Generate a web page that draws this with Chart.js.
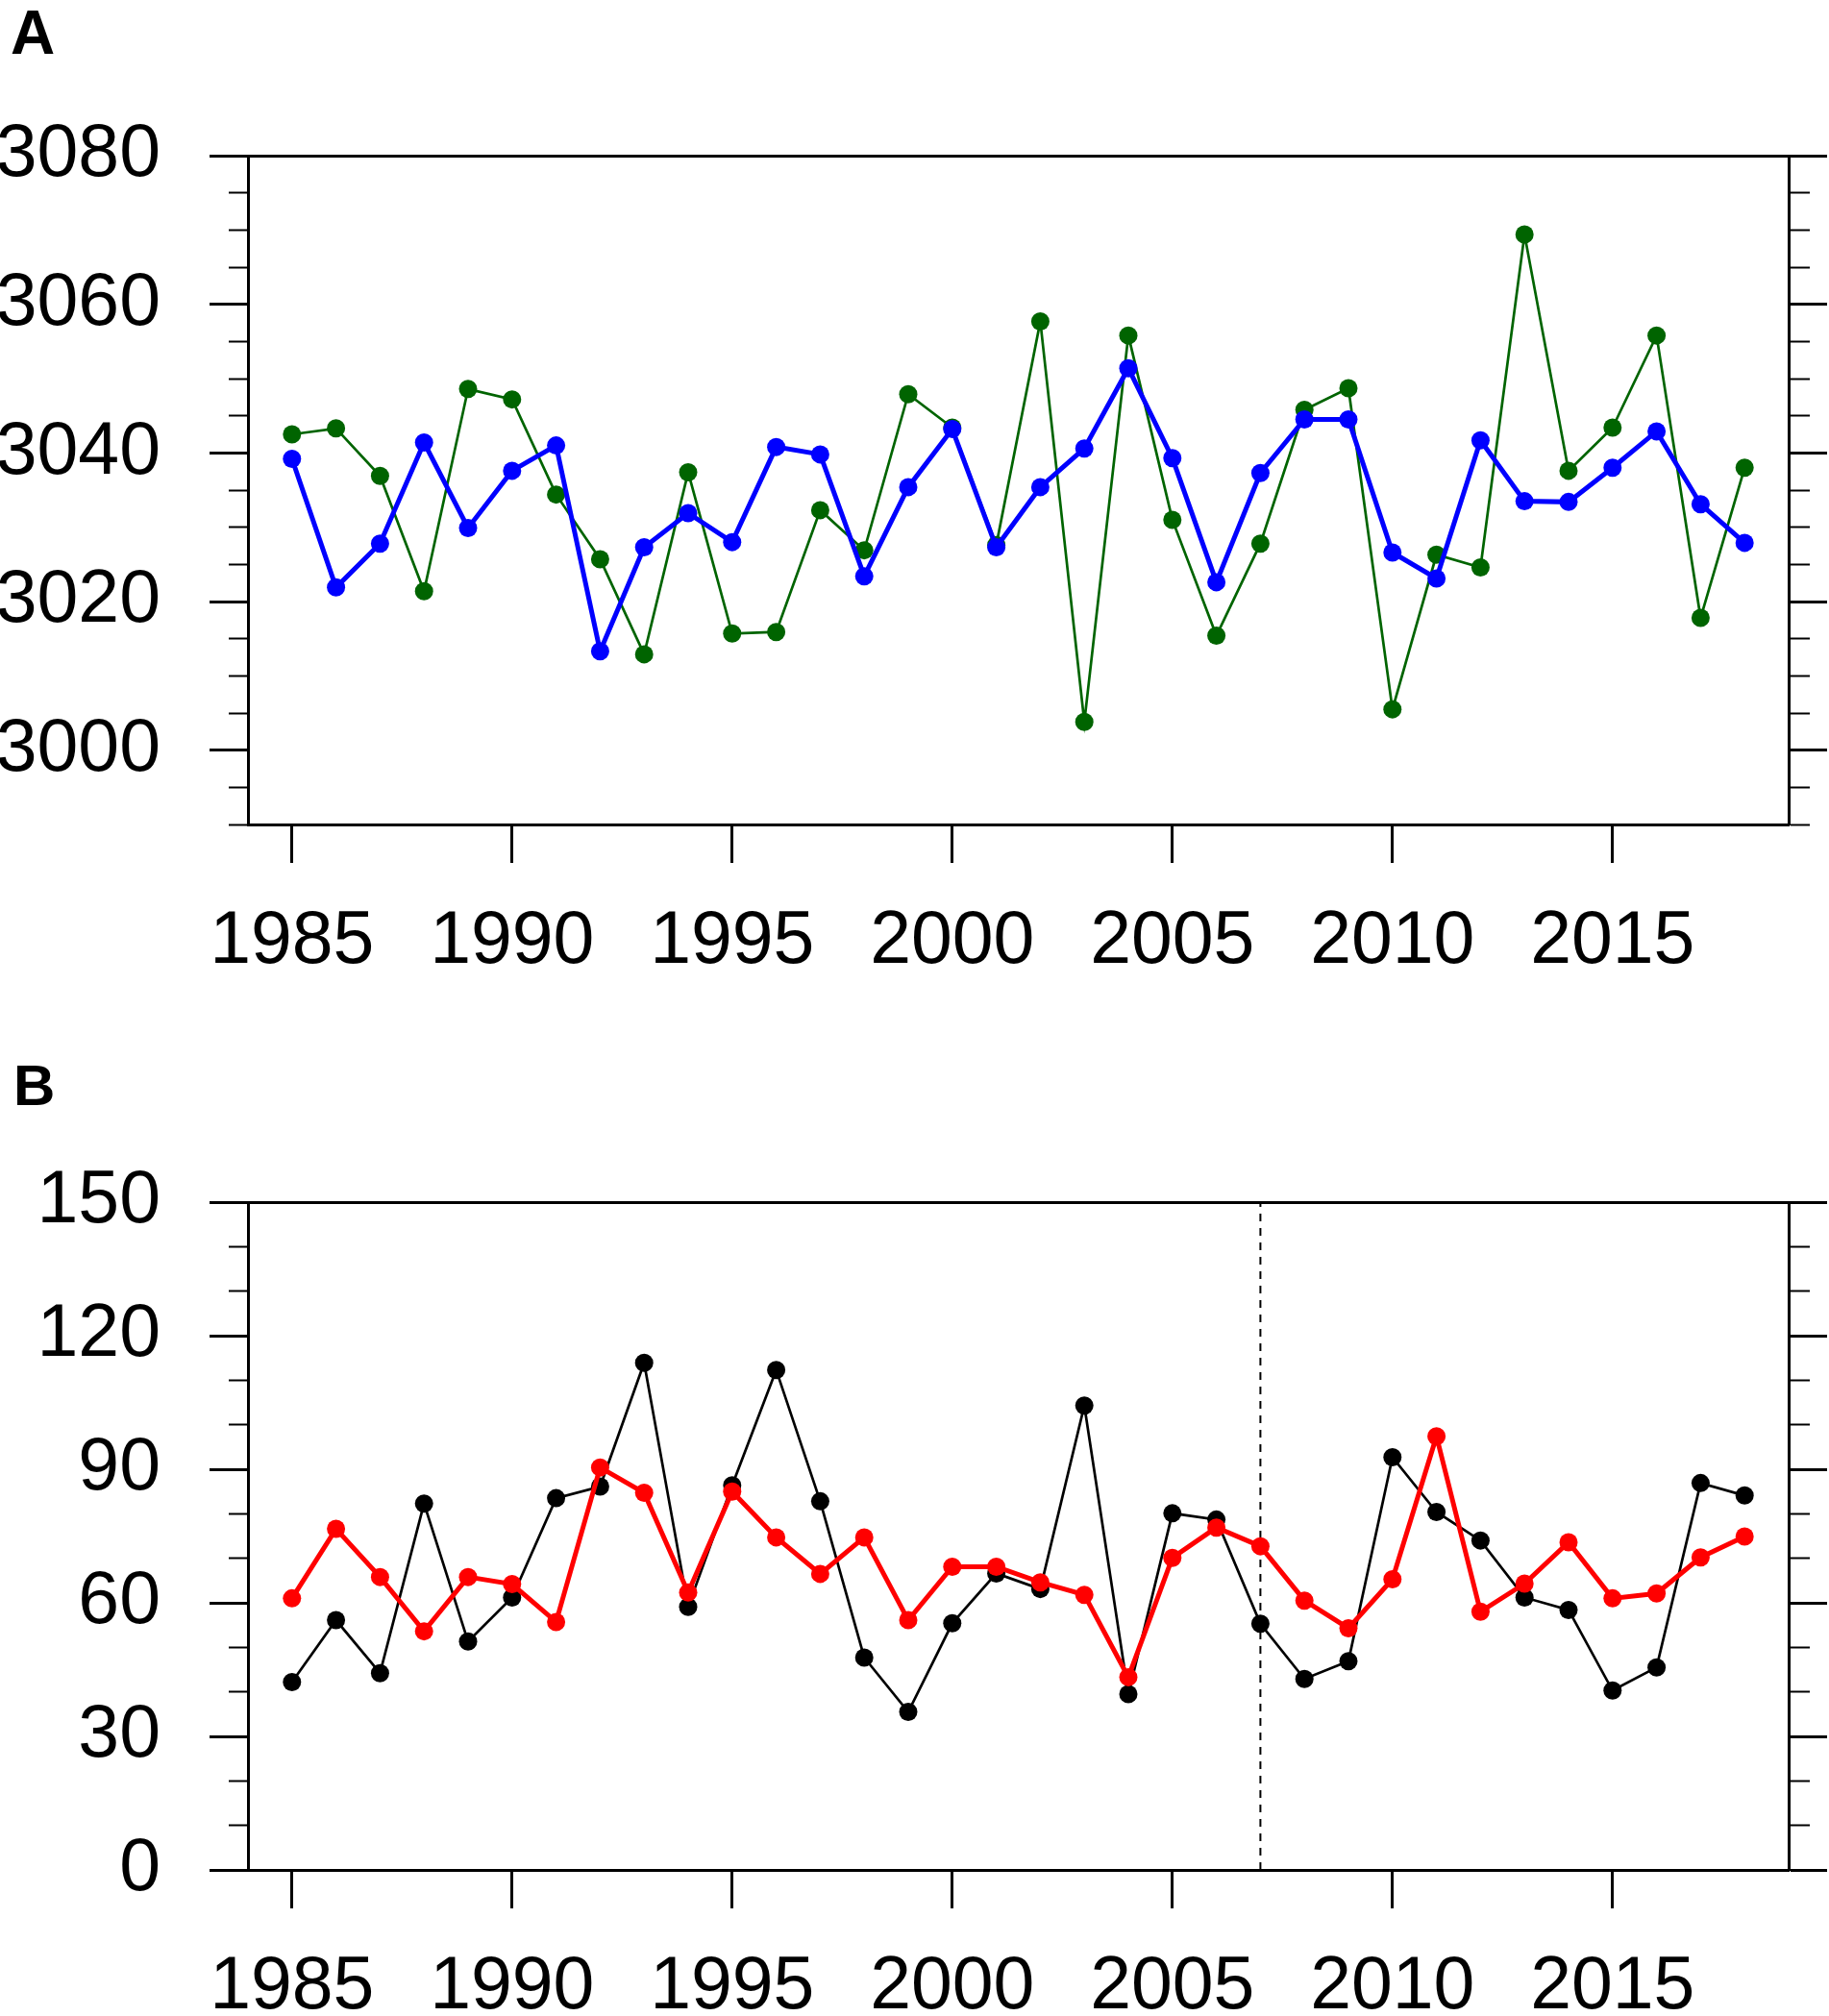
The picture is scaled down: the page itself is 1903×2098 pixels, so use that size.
<!DOCTYPE html>
<html lang="en">
<head>
    <meta charset="UTF-8">
    <title>Panels A and B</title>
    <script src="https://cdn.jsdelivr.net/npm/chart.js"></script>
    <style>
        body {
            margin: 0;
            background: #fff;
            width: 1903px;
            height: 2098px;
            position: relative;
            overflow: hidden;
        }
        canvas {
            position: absolute;
            left: 0;
        }
        #chartA { top: 0; }
        #chartB { top: 1050px; }
        .panel-label {
            position: absolute;
            font-family: "Liberation Sans", Arial, sans-serif;
            font-weight: bold;
            color: #000;
        }
    </style>
</head>
<body>
    <div class="panel-label" style="left: 11px; top: 2px; font-size: 64px; line-height: 64px;">A</div>
    <div class="panel-label" style="left: 14px; top: 1100px; font-size: 60px; line-height: 60px;">B</div>

    <canvas id="chartA" width="1903" height="1050"></canvas>
    <canvas id="chartB" width="1903" height="1048"></canvas>

    <script>
        // years on the x axis
        const years = [1985, 1986, 1987, 1988, 1989, 1990, 1991, 1992, 1993, 1994,
                       1995, 1996, 1997, 1998, 1999, 2000, 2001, 2002, 2003, 2004,
                       2005, 2006, 2007, 2008, 2009, 2010, 2011, 2012, 2013, 2014,
                       2015, 2016, 2017, 2018];
        const xTickYears = [1985, 1990, 1995, 2000, 2005, 2010, 2015];

        // panel A
        const blueA = [3039.2, 3021.9, 3027.8, 3041.4, 3029.9, 3037.6, 3041.0, 3013.3, 3027.3, 3031.9,
                       3028.0, 3040.8, 3039.8, 3023.4, 3035.4, 3043.2, 3027.3, 3035.4, 3040.6, 3051.4,
                       3039.3, 3022.6, 3037.3, 3044.5, 3044.5, 3026.6, 3023.1, 3041.7, 3033.5, 3033.4,
                       3038.0, 3042.9, 3033.1, 3027.9];
        const greenA = [3042.5, 3043.3, 3036.9, 3021.4, 3048.6, 3047.2, 3034.4, 3025.7, 3012.9, 3037.4,
                        3015.7, 3015.9, 3032.3, 3026.9, 3047.9, 3043.4, 3027.6, 3057.7, 3003.8, 3055.8,
                        3031.0, 3015.4, 3027.8, 3045.8, 3048.7, 3005.5, 3026.3, 3024.6, 3069.4, 3037.6,
                        3043.4, 3055.8, 3017.8, 3038.0];
        const yRangeA = [2990, 3080];
        const yLabelStepA = 20;

        // panel B
        const redB = [61.0, 76.6, 65.8, 53.6, 65.8, 64.2, 55.7, 90.4, 84.7, 62.3,
                      85.0, 74.7, 66.5, 74.7, 56.1, 68.1, 68.1, 64.6, 61.8, 43.3,
                      70.1, 76.9, 72.7, 60.5, 54.3, 65.3, 97.4, 58.0, 64.3, 73.6,
                      61.0, 62.1, 70.2, 74.9];
        const blackB = [42.2, 56.1, 44.2, 82.3, 51.3, 61.2, 83.5, 86.1, 113.9, 59.1,
                        86.4, 112.3, 82.8, 47.7, 35.5, 55.4, 66.6, 63.1, 104.3, 39.5,
                        80.1, 78.7, 55.3, 42.9, 46.9, 92.7, 80.4, 74.0, 61.2, 58.4,
                        40.3, 45.5, 86.9, 84.1];
        const yRangeB = [0, 150];
        const yLabelStepB = 30;
        const breakYear = 2007;

        const FONT = { family: '"Liberation Sans", Arial, sans-serif', size: 77 };

        function toPoints(values) {
            return values.map((v, i) => ({ x: years[i], y: v }));
        }

        function series(values, color, lineWidth) {
            return {
                data: toPoints(values),
                borderColor: color,
                backgroundColor: color,
                borderWidth: lineWidth,
                pointRadius: 9.5,
                pointBorderWidth: 0,
                pointBackgroundColor: color,
                tension: 0
            };
        }

        // minor ticks are drawn shorter by dashing the 40px tick line
        function yAxis(range, minorStep, labelStep, side, width) {
            const isMajor = ctx => ctx.tick && Math.abs(ctx.tick.value % labelStep) < 1e-6;
            return {
                type: 'linear',
                position: side,
                min: range[0],
                max: range[1],
                afterFit: s => { s.width = width; },
                ticks: {
                    display: side === 'left',
                    stepSize: minorStep,
                    autoSkip: false,
                    padding: 51,
                    color: '#000',
                    font: FONT,
                    callback: v => (Math.abs(v % labelStep) < 1e-6 ? String(v) : '')
                },
                grid: {
                    display: true,
                    drawOnChartArea: false,
                    drawTicks: true,
                    tickLength: 40,
                    tickColor: '#000',
                    tickWidth: ctx => (isMajor(ctx) ? 3 : 2),
                    tickBorderDash: ctx => (isMajor(ctx) ? [] : (side === 'left' ? [0, 20, 20, 100] : [20, 100]))
                },
                border: { display: true, color: '#000', width: 3 }
            };
        }

        function makePanel(id, datasets, range, minorStep, labelStep, areaTop, areaBottom) {
            const canvas = document.getElementById(id);
            return new Chart(canvas, {
                type: 'line',
                data: { datasets: datasets },
                options: {
                    responsive: false,
                    animation: false,
                    devicePixelRatio: 1,
                    layout: { padding: { top: areaTop, left: 0, right: 0, bottom: 0 } },
                    plugins: { legend: { display: false }, tooltip: { enabled: false } },
                    scales: {
                        x: {
                            type: 'linear',
                            position: 'bottom',
                            min: 1984,
                            max: 2019,
                            afterFit: s => { s.height = canvas.height - areaBottom; },
                            afterBuildTicks: s => { s.ticks = xTickYears.map(v => ({ value: v })); },
                            ticks: {
                                autoSkip: false,
                                maxRotation: 0,
                                padding: 37,
                                color: '#000',
                                font: FONT,
                                callback: v => String(v)
                            },
                            grid: {
                                display: true,
                                drawOnChartArea: false,
                                drawTicks: true,
                                tickLength: 40,
                                tickWidth: 3,
                                tickColor: '#000'
                            },
                            border: { display: true, color: '#000', width: 3 }
                        },
                        xTop: {
                            type: 'linear',
                            position: 'top',
                            min: 1984,
                            max: 2019,
                            afterFit: s => { s.height = 0; },
                            ticks: { display: false },
                            grid: { display: true, drawOnChartArea: false, drawTicks: false },
                            border: { display: true, color: '#000', width: 3 }
                        },
                        y: yAxis(range, minorStep, labelStep, 'left', 258),
                        yRight: yAxis(range, minorStep, labelStep, 'right', 42)
                    }
                }
            });
        }

        // panel A: blue drawn over green
        makePanel('chartA', [
            series(blueA, '#0000ff', 5),
            series(greenA, '#006400', 2.7)
        ], yRangeA, 5, yLabelStepA, 162, 858);

        // panel B: red over black, dashed break line underneath
        const breakLine = {
            data: [{ x: breakYear, y: yRangeB[0] }, { x: breakYear, y: yRangeB[1] }],
            borderColor: '#000',
            borderWidth: 2,
            borderDash: [8, 7],
            pointRadius: 0
        };
        makePanel('chartB', [
            series(redB, '#ff0000', 5),
            series(blackB, '#000000', 2.7),
            breakLine
        ], yRangeB, 10, yLabelStepB, 201, 896);
    </script>
</body>
</html>
